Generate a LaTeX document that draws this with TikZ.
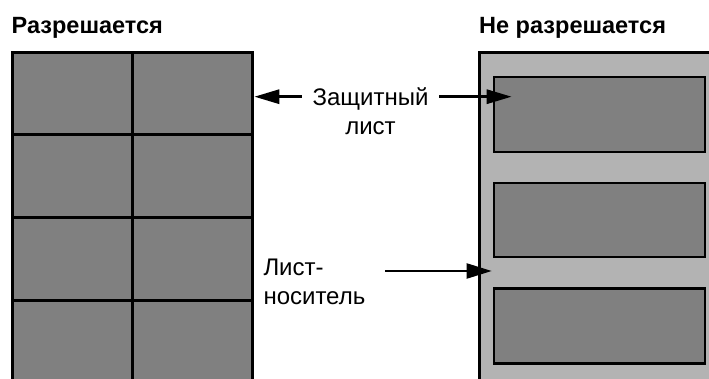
\documentclass[tikz,border=0pt]{standalone}
\usepackage{fontspec}
\setmainfont{Liberation Sans}
\usetikzlibrary{arrows.meta}
\definecolor{darkgr}{HTML}{808080}
\definecolor{lightgr}{HTML}{B3B3B3}
\begin{document}
\begin{tikzpicture}[x=1pt,y=-1pt,
  title/.style={font=\fontsize{23.5}{28}\selectfont\bfseries, anchor=base west, inner sep=0pt},
  lbl/.style={font=\fontsize{24}{28}\selectfont, inner sep=0pt},
  panel/.style={draw, line width=3pt, anchor=north west, inner sep=0pt},
  gridline/.style={line width=3pt},
  sheet/.style={draw, line width=2.5pt, fill=darkgr, anchor=north west, inner sep=0pt,
    minimum width=211pt},
  arr/.style={line width=3pt, -{Triangle[length=25pt,width=14pt]}},
  arrthin/.style={line width=2.2pt, -{Triangle[length=25pt,width=15pt]}}
]
\useasboundingbox (0,0) rectangle (709,379);
\clip (0,0) rectangle (709,379);
\fill[white] (0,0) rectangle (709,379);

% titles
\node[title] (t1) at (11.5,33.5) {Разрешается};
\node[title] (t2) at (479,33.5) {Не разрешается};

% left panel (allowed)
\node[panel, fill=darkgr, minimum width=240pt, minimum height=380pt] (lp) at (11.3,51.3) {};
\draw[gridline] (lp.north) -- (lp.south);
\foreach \yy in {134.3,217.3,300.3}
  \draw[gridline] (lp.west |- 0,\yy) -- (lp.east |- 0,\yy);

% right panel (not allowed)
\node[panel, fill=lightgr, minimum width=260pt, minimum height=380pt] (rp) at (477.7,51) {};
\node[sheet, minimum height=75pt] (r1) at (492.5,76) {};
\node[sheet, minimum height=74pt] (r2) at (492.5,182) {};
\node[sheet, minimum height=75pt] (r3) at (492.5,287) {};

% labels
\node[lbl, anchor=base] (z1) at (370.5,105.5) {Защитный};
\node[lbl, anchor=base] (z2) at (370.5,135) {лист};
\node[lbl, anchor=base west] (n1) at (263.3,275.5) {Лист-};
\node[lbl, anchor=base west] (n2) at (263.3,304) {носитель};

% arrow end points
\coordinate (a1) at (lp.east |- 0,96.7);
\coordinate (a1s) at (301.7,96.7);
\coordinate (a2s) at (439.3,96.7);
\coordinate (a2) at (511.7,96.7);
\coordinate (a3s) at (385,271);
\coordinate (a3) at (491.7,271);

\draw[arr] (a1s) -- (a1);
\draw[arr] (a2s) -- (a2);
\draw[arrthin] (a3s) -- (a3);
\end{tikzpicture}
\end{document}
